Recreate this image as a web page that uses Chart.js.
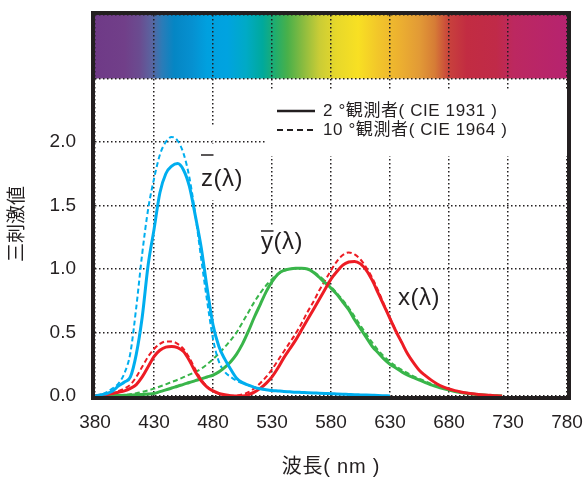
<!DOCTYPE html>
<html><head><meta charset="utf-8">
<script src="https://cdn.jsdelivr.net/npm/chart.js@4/dist/chart.umd.min.js"></script>
<style>html,body{margin:0;padding:0;background:#fff;overflow:hidden}#wrap{width:587px;height:477px}</style>
</head><body><div id="wrap"><canvas id="c" width="587" height="477"></canvas></div>
<script>
// ---- data ----
const wavelengths = [380,385,390,395,400,405,410,415,420,425,430,435,440,445,450,455,460,465,470,475,480,485,490,495,500,505,510,515,520,525,530,535,540,545,550,555,560,565,570,575,580,585,590,595,600,605,610,615,620,625,630,635,640,645,650,655,660,665,670,675,680,685,690,695,700,705,710,715,720,725,730];
// 2 degree observer (CIE 1931), solid
const z2 = [0,0.01,0.02,0.04,0.08,0.11,0.15,0.33,0.62,1.03,1.31,1.6,1.75,1.81,1.83,1.78,1.65,1.42,1.17,0.85,0.56,0.39,0.29,0.21,0.14,0.105,0.085,0.068,0.057,0.05,0.044,0.04,0.036,0.033,0.03,0.028,0.026,0.024,0.022,0.02,0.018,0.016,0.014,0.012,0.01,0.0085,0.007,0.0055,0.004,0.002,0,null,null,null,null,null,null,null,null,null,null,null,null,null,null,null,null,null,null,null,null];
const x2 = [0,0.005,0.01,0.02,0.03,0.04,0.06,0.09,0.15,0.23,0.31,0.36,0.385,0.39,0.38,0.35,0.28,0.19,0.12,0.07,0.04,0.02,0.01,0.003,0,0,0.01,0.03,0.06,0.1,0.15,0.22,0.3,0.37,0.44,0.52,0.6,0.68,0.76,0.84,0.92,0.98,1.03,1.055,1.06,1.04,0.99,0.91,0.81,0.71,0.61,0.51,0.42,0.33,0.26,0.2,0.16,0.125,0.095,0.072,0.055,0.042,0.032,0.024,0.017,0.012,0.008,0.005,0.002,0,null];
const y2 = [0,0.001,0.002,0.003,0.004,0.005,0.007,0.009,0.012,0.015,0.02,0.034,0.048,0.063,0.077,0.092,0.106,0.121,0.135,0.15,0.165,0.19,0.225,0.27,0.33,0.41,0.51,0.62,0.72,0.82,0.9,0.96,0.99,1.0,1.005,1.005,1.0,0.975,0.935,0.89,0.85,0.8,0.74,0.68,0.6,0.53,0.46,0.39,0.34,0.29,0.25,0.22,0.19,0.165,0.145,0.125,0.105,0.088,0.072,0.058,0.046,0.036,0.028,0.021,0.015,0.01,0.007,0.004,0.002,0,null];
// 10 degree observer (CIE 1964), dashed
const z10 = [0,0.01,0.03,0.06,0.1,0.18,0.34,0.7,1.12,1.47,1.71,1.9,2.0,2.04,2.01,1.91,1.72,1.43,1.08,0.75,0.45,0.27,0.19,0.15,0.12,0.1,0.085,0.07,0.056,0.048,0.044,null,null,null,null,null,null,null,null,null,null,null,null,null,null,null,null,null,null,null,null,null,null,null,null,null,null,null,null,null,null,null,null,null,null,null,null,null,null,null,null];
const x10 = [0,0.005,0.01,0.02,0.04,0.06,0.09,0.15,0.23,0.31,0.37,0.41,0.43,0.43,0.41,0.37,0.3,0.21,0.13,0.075,0.04,0.018,0.006,0.002,0.004,0.012,0.03,0.06,0.1,0.15,0.21,0.28,0.35,0.42,0.49,0.57,0.66,0.74,0.83,0.91,0.99,1.06,1.11,1.13,1.115,1.075,1.01,0.93,0.83,0.72,0.615,0.515,0.42,null,null,null,null,null,null,null,null,null,null,null,null,null,null,null,null,null,null];
const y10 = [0,0,0.001,0.002,0.004,0.008,0.014,0.022,0.032,0.044,0.058,0.075,0.092,0.11,0.128,0.148,0.168,0.19,0.215,0.25,0.29,0.335,0.385,0.44,0.5,0.58,0.66,0.74,0.81,0.87,0.92,0.96,0.985,1.0,1.005,1.005,1.0,0.98,0.945,0.905,0.86,0.81,0.755,0.695,0.625,0.555,0.485,0.42,0.36,0.31,0.27,0.235,0.205,0.18,0.155,0.135,0.115,0.095,0.078,0.063,0.05,0.039,0.03,0.022,0.016,0.011,0.007,0.004,0.002,0,null];
const xTicks = [380,430,480,530,580,630,680,730,780];
const yTicks = [0,0.5,1.0,1.5,2.0,2.5,3.0];
const yTickLabels = [0,0.5,1.0,1.5,2.0];
const legendLabels = ['2 °観測者( CIE 1931 )','10 °観測者( CIE 1964 )'];
const curveLabels = ['z','y','x'];
const xTitle = '波長( nm )';
const yTitle = '三刺激値';
const spectrumStops = [[380,'#6f3a87'],[405,'#713f89'],[418,'#6a4c90'],[428,'#5a64a0'],[437,'#2a7cb8'],[447,'#0586c4'],[462,'#0690d0'],[475,'#00a0df'],[492,'#00a3e0'],[508,'#00aac6'],[522,'#00a99c'],[533,'#22ad6c'],[543,'#48b04a'],[556,'#88bb40'],[570,'#c9cc36'],[585,'#e8d82a'],[603,'#f8e023'],[620,'#f2c62a'],[638,'#ecb030'],[655,'#e29a36'],[668,'#d67c36'],[680,'#c8413c'],[695,'#c22c42'],[720,'#c02a48'],[735,'#bc2860'],[780,'#b6236f']];

const INK = '#231f20';
const FF = '"Liberation Sans","Noto Sans CJK JP",Arial,sans-serif';
const BLUE = '#00aeef', RED = '#ed1c24', GREEN = '#39b54a';

function mk(arr, color, dashed){
  return {data: wavelengths.map((w,i)=>({x:w, y:arr[i]})), borderColor:color,
    borderWidth: dashed?2:3, borderDash: dashed?[5,3]:[], pointRadius:0, fill:false,
    cubicInterpolationMode:'monotone', spanGaps:false, borderCapStyle:'butt', borderJoinStyle:'round'};
}

const spectrumPlugin = {
  id:'spectrum',
  beforeDraw(chart){
    const {ctx, chartArea:a, scales:{x,y}} = chart;
    const top = y.getPixelForValue(3.0), bot = y.getPixelForValue(2.5);
    const g = ctx.createLinearGradient(a.left,0,a.right,0);
    spectrumStops.forEach(([nm,c])=>g.addColorStop(Math.min(1,Math.max(0,(x.getPixelForValue(nm)-a.left)/(a.right-a.left))),c));
    ctx.save(); ctx.fillStyle = g; ctx.fillRect(a.left, top, a.right-a.left, bot-top); ctx.restore();
  }
};

function spaced(ctx, px){ if ('letterSpacing' in ctx) ctx.letterSpacing = px+'px'; }

const overlayPlugin = {
  id:'overlay',
  beforeDatasetsDraw(chart){
    const {ctx, chartArea:a, scales:{x,y}} = chart;
    ctx.save();
    ctx.fillStyle = '#fff';
    ctx.fillRect(265, 89, a.right-265, 67);
    ctx.fillRect(197, 147, 56, 48);
    ctx.fillRect(258, 227, 54, 38);
    ctx.fillRect(394, 284, 54, 30);
    // gap in the 480 nm grid line beside the z label
    const gx = x.getPixelForValue(480), g2 = y.getPixelForValue(2.0);
    ctx.fillRect(gx-3, 127, 6, g2-1.5-127);
    ctx.fillRect(gx-3, g2+1.5, 6, 200-g2-1.5);
    ctx.strokeStyle = INK; ctx.lineWidth = 2.5;
    ctx.beginPath(); ctx.moveTo(277,111); ctx.lineTo(315,111); ctx.stroke();
    ctx.lineWidth = 2; ctx.setLineDash([6,4]);
    ctx.beginPath(); ctx.moveTo(277,130); ctx.lineTo(315,130); ctx.stroke();
    ctx.setLineDash([]);
    ctx.fillStyle = INK; ctx.font = '17px '+FF; ctx.textBaseline = 'middle'; ctx.textAlign='left';
    spaced(ctx, 0.6);
    ctx.fillText(legendLabels[0], 323, 111);
    ctx.fillText(legendLabels[1], 323, 130);
    ctx.font = '24px '+FF; ctx.textBaseline = 'alphabetic';
    spaced(ctx, 0.5);
    const lab = (ch, lx, yb, bar) => {
      ctx.fillText(ch+'(λ)', lx, yb);
      if (bar!==null){
        const w = ctx.measureText(ch).width;
        ctx.lineWidth = 1.5; ctx.beginPath(); ctx.moveTo(lx, bar); ctx.lineTo(lx+w, bar); ctx.stroke();
      }
    };
    lab(curveLabels[0], 201, 186, 155);
    lab(curveLabels[1], 261, 249, 231);
    lab(curveLabels[2], 398, 305, null);
    ctx.restore();
  },
  afterDraw(chart){
    const {ctx, chartArea:a} = chart;
    ctx.save();
    ctx.strokeStyle = INK; ctx.lineWidth = 4;
    ctx.strokeRect(a.left-2, a.top-2, a.right-a.left+4, a.bottom-a.top+4);
    ctx.fillStyle = INK;
    ctx.font = '20px '+FF; ctx.textAlign='center'; ctx.textBaseline='middle';
    spaced(ctx, 0.8);
    ctx.fillText(xTitle, (a.left+a.right)/2, 467);
    spaced(ctx, 0);
    ctx.font = '19px '+FF;
    ctx.translate(18, 224); ctx.rotate(-Math.PI/2);
    ctx.fillText(yTitle, 0, 0);
    ctx.restore();
  }
};

function make(){
  new Chart(document.getElementById('c'), {
    type:'line',
    data:{datasets:[mk(z2,BLUE,false),mk(x2,RED,false),mk(y2,GREEN,false),mk(z10,BLUE,true),mk(x10,RED,true),mk(y10,GREEN,true)]},
    options:{
      responsive:false, animation:false, devicePixelRatio:1,
      layout:{padding:{left:0,right:20,top:15,bottom:0}},
      plugins:{legend:{display:false}, tooltip:{enabled:false}},
      scales:{
        x:{type:'linear', min:380, max:780,
          afterBuildTicks(s){ s.ticks = xTicks.map(v=>({value:v})); },
          afterFit(s){ s.height = 81; s.paddingLeft = 0; s.paddingRight = 0; },
          grid:{color:INK, lineWidth:1.5, drawTicks:false},
          border:{display:false, dash:[1.5,2.5]},
          ticks:{padding:15, color:INK, font:{family:FF, size:19}, maxRotation:0, callback:v=>String(v)}},
        y:{type:'linear', min:0, max:3.0,
          afterBuildTicks(s){ s.ticks = yTicks.map(v=>({value:v})); },
          afterFit(s){ s.width = 95; s.paddingTop = 0; s.paddingBottom = 0; },
          grid:{color:INK, lineWidth:1.5, drawTicks:false},
          border:{display:false, dash:[1.5,2.5]},
          ticks:{padding:19, color:INK, font:{family:FF, size:19}, callback:v=> yTickLabels.includes(v) ? v.toFixed(1) : ''}}
      }
    },
    plugins:[spectrumPlugin, overlayPlugin]
  });
}
if (document.fonts && document.fonts.load) {
  Promise.all([document.fonts.load('18px "Liberation Sans"'), document.fonts.load('18px "Noto Sans CJK JP"','観測者波長三刺激値')]).then(make, make);
} else make();
</script>
</body></html>
